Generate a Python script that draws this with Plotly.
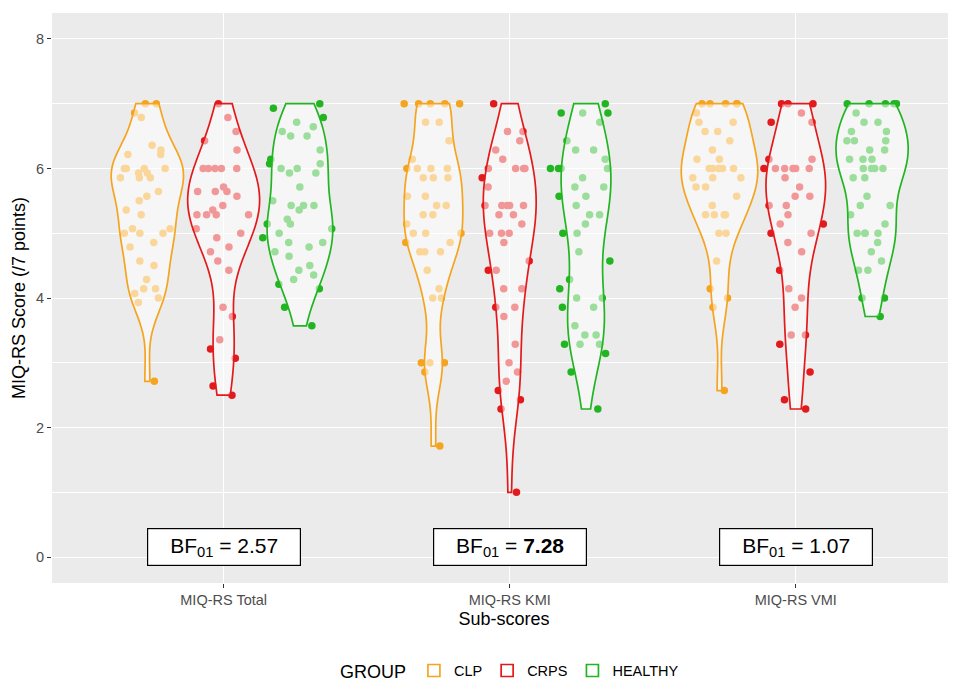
import numpy as np
import plotly.graph_objects as go

categories = ["MIQ-RS Total", "MIQ-RS KMI", "MIQ-RS VMI"]
groups = ["CLP", "CRPS", "HEALTHY"]
bf_values = ["2.57", "7.28", "1.07"]
bf_bold = [False, True, False]
y_ticks = [0, 2, 4, 6, 8]

clp_total = [7, 7, 6.857, 6.786, 6.357, 6.286, 6.214, 6.214, 6, 6, 6, 6, 5.929, 5.929,
             5.857, 5.857, 5.857, 5.643, 5.571, 5.5, 5.357, 5.286, 5.071, 5.071, 5.0, 5.0,
             5.0, 4.857, 4.786, 4.571, 4.5, 4.286, 4.143, 4.143, 4.071, 4.0, 3.929, 2.714]
crps_total = [7, 6.786, 6.571, 6.429, 6.286, 6, 6, 6, 6, 6, 5.714, 5.643, 5.643, 5.643,
              5.571, 5.429, 5.357, 5.286, 5.286, 5.286, 5.286, 5.071, 5.0, 4.929, 4.786,
              4.714, 4.571, 4.429, 3.857, 3.714, 3.357, 3.214, 3.071, 2.643, 2.5]
healthy_total = [7, 6.929, 6.786, 6.714, 6.643, 6.571, 6.5, 6.5, 6.286, 6.143, 6.071, 6.071,
                 6.0, 6.0, 5.929, 5.929, 5.714, 5.5, 5.429, 5.429, 5.429, 5.357, 5.214, 5.143,
                 5.143, 5.071, 5.0, 4.929, 4.857, 4.857, 4.786, 4.714, 4.643, 4.5, 4.429,
                 4.357, 4.286, 4.214, 4.143, 3.857, 3.571]

clp_kmi = [7, 7, 7, 7, 7, 6.714, 6.714, 6.429, 6.143, 6.0, 6.0, 6.0, 6.0, 5.857, 5.857,
           5.857, 5.571, 5.571, 5.429, 5.429, 5.286, 5.286, 5.143, 5.0, 5.0, 5.0, 4.857,
           4.857, 4.714, 4.714, 4.714, 4.429, 4.143, 4.0, 4.0, 3.0, 3.0, 3.0, 2.857, 1.714]
crps_kmi = [7, 6.571, 6.571, 6.429, 6.286, 6.143, 6.0, 6.0, 6.0, 6.0, 5.857, 5.714, 5.429,
            5.429, 5.429, 5.429, 5.429, 5.286, 5.286, 5.143, 5.0, 5.0, 5.0, 4.857, 4.571,
            4.429, 4.429, 4.143, 4.143, 3.857, 3.857, 3.714, 3.286, 3.0, 2.857, 2.714,
            2.571, 2.429, 2.286, 1.0]
healthy_kmi = [7, 6.857, 6.857, 6.857, 6.714, 6.429, 6.286, 6.286, 6.143, 6.0, 6.0, 6.0,
               6.0, 5.857, 5.714, 5.714, 5.571, 5.571, 5.429, 5.286, 5.286, 5.143, 5.0, 5.0,
               4.714, 4.571, 4.286, 4.143, 4.0, 4.0, 3.857, 3.857, 3.571, 3.429, 3.429,
               3.286, 3.286, 3.286, 3.143, 2.857, 2.286]

clp_vmi = [7, 7, 7, 7, 7, 6.857, 6.714, 6.714, 6.571, 6.571, 6.429, 6.286, 6.143, 6.143,
           6.0, 6.0, 6.0, 6.0, 6.0, 5.857, 5.857, 5.857, 5.714, 5.714, 5.571, 5.429, 5.286,
           5.286, 5.286, 5.286, 5.0, 5.0, 4.571, 4.143, 4.0, 3.857, 2.571]
crps_vmi = [7, 7, 7, 6.857, 6.714, 6.714, 6.143, 6.143, 6.0, 6.0, 6.0, 6.0, 6.0, 6.0, 5.857,
            5.714, 5.571, 5.571, 5.429, 5.429, 5.286, 5.143, 5.143, 5.0, 5.0, 4.857, 4.714,
            4.429, 4.143, 4.0, 3.857, 3.429, 3.429, 3.286, 2.857, 2.429, 2.286]
healthy_vmi = [7, 7, 7, 7, 7, 6.857, 6.714, 6.714, 6.571, 6.571, 6.429, 6.429, 6.429, 6.286,
               6.286, 6.143, 6.143, 6.143, 6.0, 6.0, 6.0, 6.0, 5.857, 5.857, 5.571, 5.429,
               5.429, 5.286, 5.143, 5.0, 5.0, 5.0, 5.0, 4.857, 4.714, 4.571, 4.429, 4.429,
               4.0, 4.0, 3.714]

series = {
    "CLP": [clp_total, clp_kmi, clp_vmi],
    "CRPS": [crps_total, crps_kmi, crps_vmi],
    "HEALTHY": [healthy_total, healthy_kmi, healthy_vmi],
}
colors = {"CLP": "#F5A41F", "CRPS": "#E31A1C", "HEALTHY": "#22B522"}
FONT = "Liberation Sans, Arial, sans-serif"


def bw_nrd0(v):
    v = np.asarray(v, dtype=float)
    sd = v.std(ddof=1)
    q75, q25 = np.percentile(v, [75, 25])
    lo = min(sd, (q75 - q25) / 1.34)
    if lo <= 0:
        lo = sd if sd > 0 else 1.0
    return 0.9 * lo * len(v) ** (-0.2)


fig = go.Figure()

# jittered points (drawn first, violins cover them semi-transparently)
for ci, cat in enumerate(categories):
    for g in groups:
        vals = series[g][ci]
        fig.add_trace(go.Violin(
            x=[cat] * len(vals), y=vals, offsetgroup=g, alignmentgroup="all",
            scalegroup="all", scalemode="width", spanmode="hard",
            bandwidth=bw_nrd0(vals), points="all", pointpos=0, jitter=1.0,
            marker=dict(color=colors[g], size=7.5, line=dict(width=0)),
            line=dict(width=0, color="rgba(0,0,0,0)"), fillcolor="rgba(0,0,0,0)",
            showlegend=False, hoverinfo="skip", name=g,
        ))

# violin outlines on top
for ci, cat in enumerate(categories):
    for g in groups:
        vals = series[g][ci]
        fig.add_trace(go.Violin(
            x=[cat] * len(vals), y=vals, offsetgroup=g, alignmentgroup="all",
            scalegroup="all", scalemode="width", spanmode="hard",
            bandwidth=bw_nrd0(vals), points=False,
            line=dict(color=colors[g], width=1.7),
            fillcolor="rgba(255,255,255,0.55)",
            name=g, legendgroup=g, showlegend=(ci == 0),
        ))

for cat, val, bold in zip(categories, bf_values, bf_bold):
    num = f"<b>{val}</b>" if bold else val
    fig.add_annotation(
        x=cat, y=0.15, xref="x", yref="y",
        text=f"BF<sub>01</sub> = {num}", showarrow=False,
        font=dict(size=21, color="black", family=FONT),
        bgcolor="white", bordercolor="black", borderwidth=1.2, borderpad=0,
        width=152, height=36,
    )

fig.update_layout(
    width=948, height=673,
    margin=dict(l=44, r=0, t=5, b=98, autoexpand=False),
    paper_bgcolor="white", plot_bgcolor="#EBEBEB",
    violinmode="group", violingap=0.2, violingroupgap=0,
    font=dict(family=FONT, color="black"),
    legend=dict(
        orientation="h", xref="container", yref="container",
        x=0.348, xanchor="left", y=0.014, yanchor="middle",
        title=dict(text="GROUP", side="left", font=dict(size=18, color="black")),
        font=dict(size=14.5, color="black"), bgcolor="rgba(0,0,0,0)",
    ),
)
fig.update_xaxes(
    type="category", categoryorder="array", categoryarray=categories,
    range=[-0.6, 2.56], showgrid=True, gridcolor="white", gridwidth=1.2,
    ticks="outside", ticklen=4, tickcolor="#333333", tickwidth=1, automargin=False,
    tickfont=dict(size=14.5, color="#4D4D4D"), zeroline=False, showline=False,
    title=dict(text="Sub-scores", font=dict(size=18, color="black"), standoff=4),
)
fig.update_yaxes(
    range=[-0.4, 8.4], tickvals=y_ticks, showgrid=True, gridcolor="white", gridwidth=1.2,
    ticks="outside", ticklen=4, tickcolor="#333333", tickwidth=1, automargin=False,
    tickfont=dict(size=14.5, color="#4D4D4D"), zeroline=False, showline=False,
    minor=dict(tickvals=[1, 3, 5, 7], showgrid=True, gridcolor="white", gridwidth=0.6, ticks=""),
    title=dict(text="MIQ-RS Score (/7 points)", font=dict(size=18, color="black"), standoff=5),
)

fig.write_html("out.html")
